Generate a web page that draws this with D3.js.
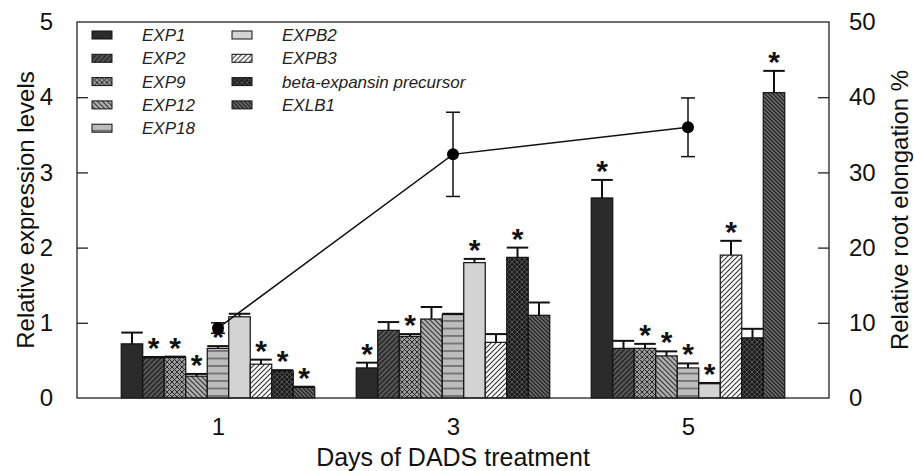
<!DOCTYPE html>
<html>
<head>
<meta charset="utf-8">
<script src="https://cdn.jsdelivr.net/npm/d3@7"></script>
<style>
  body { margin: 0; background: #fff; }
  svg { font-family: "Liberation Sans", Arial, sans-serif; }
</style>
</head>
<body>
<svg id="chart" width="914" height="471"></svg>
<script>
// Data
const days = [1, 3, 5];
const genes = ["EXP1", "EXP2", "EXP9", "EXP12", "EXP18", "EXPB2", "EXPB3", "beta-expansin precursor", "EXLB1"];

const day1Mean = [0.72, 0.535, 0.54, 0.29, 0.66, 1.08, 0.45, 0.36, 0.14];
const day1Err  = [0.15, 0.01, 0.01, 0.03, 0.03, 0.04, 0.06, 0.01, 0.01];
const day1Sig  = [0, 1, 1, 1, 1, 0, 1, 1, 1];

const day3Mean = [0.40, 0.90, 0.82, 1.05, 1.11, 1.80, 0.74, 1.87, 1.10];
const day3Err  = [0.07, 0.11, 0.03, 0.16, 0.01, 0.05, 0.11, 0.13, 0.17];
const day3Sig  = [1, 0, 1, 0, 0, 1, 0, 1, 0];

const day5Mean = [2.66, 0.66, 0.66, 0.56, 0.40, 0.19, 1.90, 0.80, 4.06];
const day5Err  = [0.24, 0.10, 0.06, 0.06, 0.06, 0.01, 0.19, 0.12, 0.29];
const day5Sig  = [1, 0, 1, 1, 1, 1, 1, 0, 1];

const elongation = [9.3, 32.4, 36.0];
const elongationErr = [0.7, 5.6, 3.9];

const leftTicks = [0, 1, 2, 3, 4, 5];
const rightTicks = [0, 10, 20, 30, 40, 50];

// Layout
const margin = { top: 22, right: 85, bottom: 73, left: 77 };
const width = 914 - margin.left - margin.right;
const height = 471 - margin.top - margin.bottom;

const svg = d3.select("#chart");
const g = svg.append("g").attr("transform", `translate(${margin.left},${margin.top})`);

const x = d3.scaleLinear().domain([-0.2, 6.2]).range([0, width]);
const y = d3.scaleLinear().domain([0, 5]).range([height, 0]);
const y2 = d3.scaleLinear().domain([0, 50]).range([height, 0]);

// bar positions inside one day group
const barW = x(0.183) - x(0);
const inner = d3.scaleBand().domain(genes).range([-barW * 4.5, barW * 4.5]);

// Fill patterns
const defs = svg.append("defs");
function hatch(id, bg, lineColor, size, paths, lw) {
  const p = defs.append("pattern")
    .attr("id", id)
    .attr("patternUnits", "userSpaceOnUse")
    .attr("width", size)
    .attr("height", size);
  p.append("rect").attr("width", size).attr("height", size).attr("fill", bg);
  paths.forEach(d => {
    p.append("path").attr("d", d).attr("stroke", lineColor).attr("stroke-width", lw).attr("fill", "none");
  });
}
const s = 5;
const fwd = `M0,${s} L${s},0 M-1,1 L1,-1 M${s - 1},${s + 1} L${s + 1},${s - 1}`;
const back = `M0,0 L${s},${s} M-1,${s - 1} L1,${s + 1} M${s - 1},-1 L${s + 1},1`;
hatch("p1", "#555", "#1a1a1a", s, [fwd], 1.2);
hatch("p2", "#9a9a9a", "#2a2a2a", s, [fwd, back], 1);
hatch("p3", "#b0b0b0", "#333", s, [back], 1.1);
defs.append("pattern").attr("id", "p4").attr("patternUnits", "userSpaceOnUse")
  .attr("width", 8).attr("height", 7.5)
  .call(p => {
    p.append("rect").attr("width", 8).attr("height", 7.5).attr("fill", "#bcbcbc");
    p.append("path").attr("d", "M0,6.5 L8,6.5").attr("stroke", "#555").attr("stroke-width", 1.3);
  });
hatch("p6", "#fff", "#333", s, [fwd], 1.1);
hatch("p7", "#1c1c1c", "#5a5a5a", s, [fwd, back], 0.9);
hatch("p8", "#6a6a6a", "#1a1a1a", 4, ["M0,0 L4,4 M-1,3 L1,5 M3,-1 L5,1"], 1.1);

const fills = ["#2b2b2b", "url(#p1)", "url(#p2)", "url(#p3)", "url(#p4)", "#d3d3d3", "url(#p6)", "url(#p7)", "url(#p8)"];

// Assemble rows
const means = [day1Mean, day3Mean, day5Mean];
const errs = [day1Err, day3Err, day5Err];
const sigs = [day1Sig, day3Sig, day5Sig];
const bars = [];
days.forEach((d, di) => {
  genes.forEach((gene, gi) => {
    bars.push({ day: d, gene, gi, v: means[di][gi], e: errs[di][gi], sig: sigs[di][gi] });
  });
});

// Error bars (drawn first so bar outline covers lower part)
const eb = g.append("g").selectAll("g").data(bars).join("g");
eb.append("line")
  .attr("x1", b => x(b.day) + inner(b.gene) + inner.bandwidth() / 2)
  .attr("x2", b => x(b.day) + inner(b.gene) + inner.bandwidth() / 2)
  .attr("y1", b => y(b.v))
  .attr("y2", b => y(b.v + b.e))
  .attr("stroke", "#111").attr("stroke-width", 2);
eb.append("line")
  .attr("x1", b => x(b.day) + inner(b.gene))
  .attr("x2", b => x(b.day) + inner(b.gene) + inner.bandwidth())
  .attr("y1", b => y(b.v + b.e))
  .attr("y2", b => y(b.v + b.e))
  .attr("stroke", "#111").attr("stroke-width", 2);

// Bars
g.append("g").selectAll("rect").data(bars).join("rect")
  .attr("x", b => x(b.day) + inner(b.gene))
  .attr("y", b => y(b.v))
  .attr("width", inner.bandwidth())
  .attr("height", b => y(0) - y(b.v))
  .attr("fill", b => fills[b.gi])
  .attr("stroke", "#111")
  .attr("stroke-width", 1.2);

// Significance stars
g.append("g").selectAll("text").data(bars.filter(b => b.sig)).join("text")
  .attr("x", b => x(b.day) + inner(b.gene) + inner.bandwidth() / 2)
  .attr("y", b => y(b.v + b.e) + 1)
  .attr("text-anchor", "middle")
  .attr("font-size", 30)
  .attr("font-weight", "bold")
  .attr("fill", "#111")
  .text("*");

// Root elongation line
const pts = days.map((d, i) => ({ d, v: elongation[i], e: elongationErr[i] }));
g.append("path")
  .datum(pts)
  .attr("fill", "none")
  .attr("stroke", "#111")
  .attr("stroke-width", 1.5)
  .attr("d", d3.line().x(p => x(p.d)).y(p => y2(p.v)));
const le = g.append("g").selectAll("g").data(pts).join("g");
le.append("line")
  .attr("x1", p => x(p.d)).attr("x2", p => x(p.d))
  .attr("y1", p => y2(p.v - p.e)).attr("y2", p => y2(p.v + p.e))
  .attr("stroke", "#111").attr("stroke-width", 1.5);
[-1, 1].forEach(sgn => {
  le.append("line")
    .attr("x1", p => x(p.d) - 7).attr("x2", p => x(p.d) + 7)
    .attr("y1", p => y2(p.v + sgn * p.e)).attr("y2", p => y2(p.v + sgn * p.e))
    .attr("stroke", "#111").attr("stroke-width", 1.5);
});
le.append("circle")
  .attr("cx", p => x(p.d)).attr("cy", p => y2(p.v))
  .attr("r", 6).attr("fill", "#000");

// Frame and axes
g.append("rect").attr("width", width).attr("height", height)
  .attr("fill", "none").attr("stroke", "#222").attr("stroke-width", 1.3);

const yAxis = g.append("g")
  .call(d3.axisLeft(y).tickValues(leftTicks).tickSize(-11).tickPadding(24).tickFormat(d3.format("d")));
const yAxis2 = g.append("g").attr("transform", `translate(${width},0)`)
  .call(d3.axisRight(y2).tickValues(rightTicks).tickSize(-11).tickPadding(20).tickFormat(d3.format("d")));
const xAxis = g.append("g").attr("transform", `translate(0,${height})`)
  .call(d3.axisBottom(x).tickValues(days).tickSize(0).tickPadding(20).tickFormat(d3.format("d")));

[yAxis, yAxis2, xAxis].forEach(a => {
  a.select(".domain").remove();
  a.selectAll(".tick line").attr("stroke", "#222").attr("stroke-width", 1.3);
  a.selectAll("text").attr("font-size", 24).attr("fill", "#111").attr("font-family", "Liberation Sans, Arial, sans-serif");
});
yAxis.selectAll(".tick line").filter(d => d === 0 || d === 5).remove();
yAxis2.selectAll(".tick line").filter(d => d === 0 || d === 50).remove();

// Axis titles
svg.append("text")
  .attr("transform", `translate(34,${margin.top + height / 2}) rotate(-90)`)
  .attr("text-anchor", "middle")
  .attr("font-size", 24).attr("fill", "#111")
  .text("Relative expression levels");
svg.append("text")
  .attr("transform", `translate(908,${margin.top + height / 2}) rotate(-90)`)
  .attr("text-anchor", "middle")
  .attr("font-size", 24).attr("fill", "#111")
  .text("Relative root elongation %");
svg.append("text")
  .attr("x", margin.left + x(3))
  .attr("y", 466)
  .attr("text-anchor", "middle")
  .attr("font-size", 25).attr("fill", "#111")
  .text("Days of DADS treatment");

// Legend
const legend = svg.append("g").attr("transform", "translate(92,31)");
const li = legend.selectAll("g").data(genes).join("g")
  .attr("transform", (d, i) => i < 5 ? `translate(0,${i * 23.3})` : `translate(140,${(i - 5) * 23.3})`);
li.append("rect")
  .attr("width", 20).attr("height", 8)
  .attr("fill", (d, i) => fills[i])
  .attr("stroke", "#111").attr("stroke-width", 1);
li.append("text")
  .attr("x", 50).attr("y", 10)
  .attr("font-size", 17)
  .attr("font-style", "italic")
  .attr("fill", "#222")
  .text(d => d);
</script>
</body>
</html>
